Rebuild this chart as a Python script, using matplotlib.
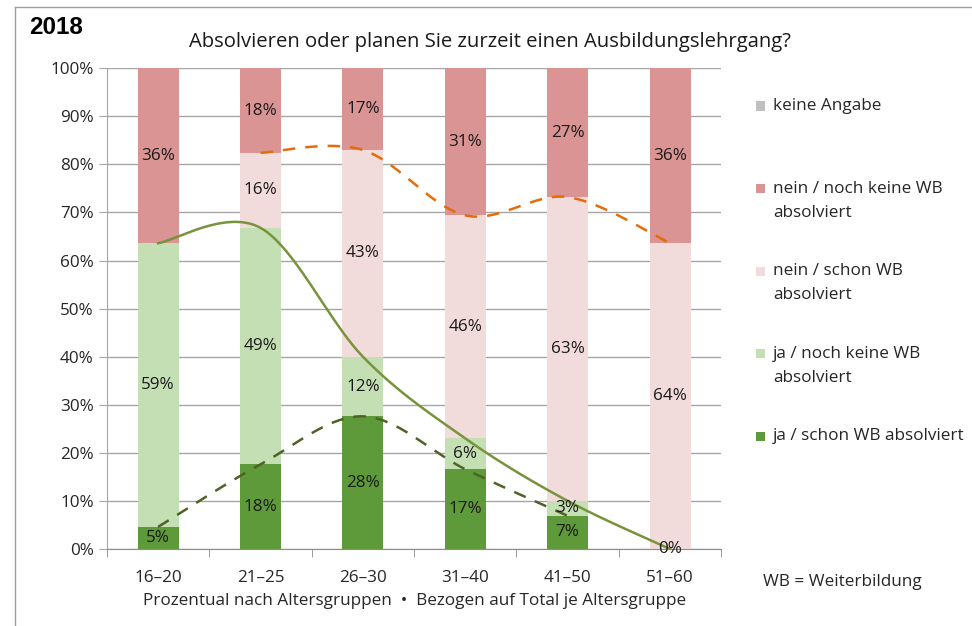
import numpy as np
import matplotlib.pyplot as plt
from matplotlib.patches import Rectangle
from matplotlib.lines import Line2D

plt.rcParams['font.family'] = ['Open Sans', 'DejaVu Sans']

groups = ['16\u201320', '21\u201325', '26\u201330', '31\u201340', '41\u201350', '51\u201360']
ja_schon = [4.6, 17.6, 27.6, 16.6, 6.9, 0.0]
ja_noch = [59.0, 49.2, 12.4, 6.4, 3.1, 0.0]
nein_schon = [0.0, 15.6, 43.0, 46.4, 63.2, 63.6]
nein_noch = [36.4, 17.6, 17.0, 30.6, 26.8, 36.4]
keine = [0, 0, 0, 0, 0, 0]

series = [
    ('ja / schon WB absolviert', ja_schon, '#5E9A3A'),
    ('ja / noch keine WB\nabsolviert', ja_noch, '#C4DFB3'),
    ('nein / schon WB\nabsolviert', nein_schon, '#F2DBDB'),
    ('nein / noch keine WB\nabsolviert', nein_noch, '#D99493'),
    ('keine Angabe', keine, '#BFBFBF'),
]

FS = 12.3


def smooth(xs, ys, n=40):
    # Excel style smoothed line (Catmull-Rom, duplicated end points)
    P = np.column_stack([xs, ys]).astype(float)
    P = np.vstack([P[0], P, P[-1]])
    out = []
    t = np.linspace(0, 1, n)[:, None]
    for i in range(1, len(P) - 2):
        p0, p1, p2, p3 = P[i - 1], P[i], P[i + 1], P[i + 2]
        m1 = (p2 - p0) / 2
        m2 = (p3 - p1) / 2
        h00 = 2 * t**3 - 3 * t**2 + 1
        h10 = t**3 - 2 * t**2 + t
        h01 = -2 * t**3 + 3 * t**2
        h11 = t**3 - t**2
        out.append(h00 * p1 + h10 * m1 + h01 * p2 + h11 * m2)
    out = np.vstack(out)
    return out[:, 0], out[:, 1]


fig = plt.figure(figsize=(9.72, 6.26), dpi=100)
ax = fig.add_axes([0.110, 0.123, 0.632, 0.768])

x = np.arange(len(groups))
bottom = np.zeros(len(groups))
for name, vals, col in series:
    vals = np.array(vals)
    ax.bar(x, vals, 0.4, bottom=bottom, color=col, zorder=2)
    for xi, v, b in zip(x, vals, bottom):
        if v > 0 or (name.startswith('ja / schon') and xi == len(groups) - 1):
            ax.text(xi, b + v / 2, f'{v:.0f}%', ha='center', va='center',
                    fontsize=FS, color='#1a1a1a', zorder=5)
    bottom = bottom + vals

cum1 = np.array(ja_schon)
cum2 = cum1 + np.array(ja_noch)
cum3 = cum2 + np.array(nein_schon)

sx, sy = smooth(x, cum2)
ax.plot(sx, sy, color='#77933C', lw=1.8, zorder=4)
sx, sy = smooth(x[:5], cum1[:5])
ax.plot(sx, sy, color='#4F6228', lw=1.8, ls=(0, (5, 4)), zorder=4)
sx, sy = smooth(x[1:], cum3[1:])
ax.plot(sx, sy, color='#E46C0A', lw=1.8, ls=(0, (5, 4)), zorder=4)

ax.set_xlim(-0.5, 5.5)
ax.set_ylim(0, 100)
ax.set_yticks(np.arange(0, 101, 10))
ax.set_yticklabels([f'{v}%' for v in range(0, 101, 10)], fontsize=FS, color='#262626')
ax.set_xticks(x)
ax.set_xticklabels(groups, fontsize=FS, color='#262626')
ax.set_xticks(np.arange(-0.5, 6, 1), minor=True)
ax.tick_params(axis='x', which='major', length=0, pad=15)
ax.tick_params(axis='x', which='minor', length=6, color='#8c8c8c')
ax.tick_params(axis='y', length=6, color='#a6a6a6')
ax.yaxis.grid(True, color='#a6a6a6', lw=1, zorder=0)
ax.set_axisbelow(True)
for s in ['top', 'right']:
    ax.spines[s].set_visible(False)
ax.spines['left'].set_color('#a6a6a6')
ax.spines['bottom'].set_color('#8c8c8c')
ax.set_xlabel('Prozentual nach Altersgruppen  \u2022  Bezogen auf Total je Altersgruppe',
              fontsize=FS, color='#262626', labelpad=5)

fig.text(0.504, 0.933, 'Absolvieren oder planen Sie zurzeit einen Ausbildungslehrgang?',
         ha='center', va='center', fontsize=14.6, color='#1a1a1a')
fig.text(0.030, 1 - 27 / 626, '2018', ha='left', va='center', fontsize=17.5,
         fontweight='bold', family='Liberation Sans')

# legend, drawn by hand
leg = [(s[0], s[2]) for s in series][::-1]
y0 = 626 - 106
for i, (name, col) in enumerate(leg):
    yy = (y0 - i * 82.5) / 626
    fig.add_artist(Rectangle((756 / 972, yy - 4.5 / 626), 9 / 972, 9 / 626,
                             transform=fig.transFigure, color=col, lw=0))
    fig.text(773 / 972, yy + 8 / 626, name, ha='left', va='top', fontsize=FS,
             color='#262626', linespacing=1.7)

fig.text(763 / 972, 1 - 582 / 626, 'WB = Weiterbildung', ha='left', va='center',
         fontsize=FS, color='#262626')

# outer frame
fig.add_artist(Line2D([15 / 972, 1], [1 - 7 / 626, 1 - 7 / 626], color='#a0a0a0', lw=1,
                      transform=fig.transFigure))
fig.add_artist(Line2D([15 / 972, 15 / 972], [0, 1 - 7 / 626], color='#a0a0a0', lw=1,
                      transform=fig.transFigure))

fig.savefig('out.png', dpi=100)
